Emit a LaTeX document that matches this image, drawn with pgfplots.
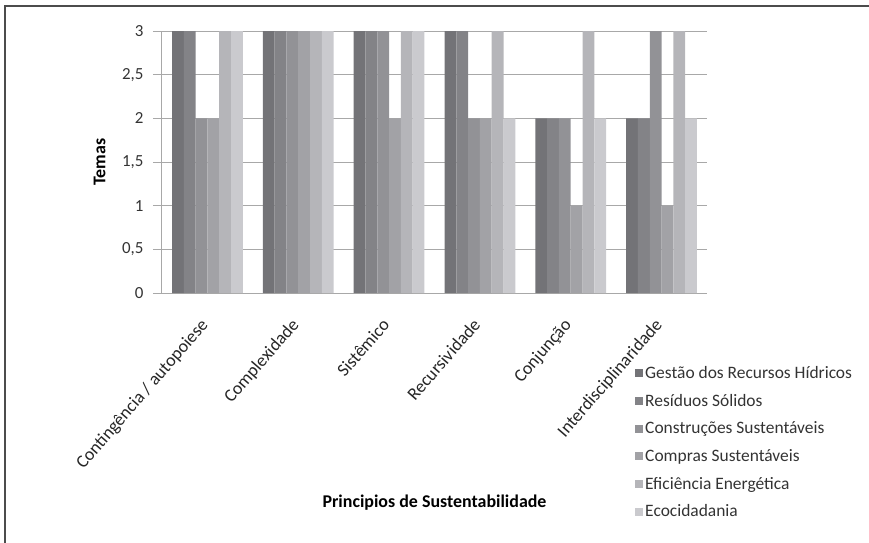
\documentclass[border=0pt]{standalone}
\usepackage{fontspec}
\setmainfont{Carlito}
\usepackage{pgfplots}
\pgfplotsset{compat=1.18}
\definecolor{c1}{HTML}{737377}
\definecolor{c2}{HTML}{838387}
\definecolor{c3}{HTML}{929296}
\definecolor{c4}{HTML}{A2A2A6}
\definecolor{c5}{HTML}{B5B5B9}
\definecolor{c6}{HTML}{CACACE}
\definecolor{gridc}{HTML}{A8A8A8}
\begin{document}
\begin{tikzpicture}
\useasboundingbox (-162bp,-250bp) rectangle (707bp,293bp);
\draw[black!70, line width=1.2bp] (-157bp,-250bp) -- (-157bp,287bp) -- (707bp,287bp);
\begin{axis}[
  at={(0,0)}, anchor=south west,
  scale only axis, width=545bp, height=262bp,
  ybar=0pt, bar width=11.8bp,
  xmin=-0.5, xmax=5.5, ymin=0, ymax=3,
  xtick={0,1,2,3,4,5},
  xticklabels={Contingência / autopoiese, Complexidade, Sistêmico, Recursividade, Conjunção, Interdisciplinaridade},
  xticklabel shift=15bp,
  x tick label style={xshift=-8bp, rotate=49, anchor=north east, font=\fontsize{18}{20}\selectfont, inner sep=0bp, text=black!85},
  major x tick style={draw=none},
  ytick={0,0.5,1,1.5,2,2.5,3},
  /pgf/number format/use comma,
  /pgf/number format/assume math mode=true,
  y tick label style={font=\fontsize{17}{19}\selectfont, text=black!80, xshift=-6bp},
  tick align=outside, major tick length=9bp,
  ytick style={gridc, line width=1bp},
  ymajorgrids, grid style={gridc, line width=1bp},
  axis x line*=bottom, axis y line*=left,
  axis line style={gridc, line width=1bp},
  ylabel={\textbf{Temas}},
  ylabel style={font=\fontsize{18}{20}\selectfont, at={(axis description cs:-0.097,0.5)}, anchor=south, rotate=0},
  xlabel={\textbf{Principios de Sustentabilidade}},
  xlabel style={font=\fontsize{18}{20}\selectfont, at={(axis description cs:0.5,-0.80)}, anchor=center},
  legend style={at={(axis description cs:0.868,-0.271)}, anchor=north west, draw=none, fill=none,
    font=\fontsize{17.5}{19}\selectfont, row sep=10.2bp, inner sep=0pt, text=black!80},
  legend cell align=left,
]
\addplot[fill=c1, draw=none, legend image code/.code={\fill[c1] (0bp,-4bp) rectangle (8bp,4bp);}] coordinates {(0,3) (1,3) (2,3) (3,3) (4,2) (5,2)};
\addplot[fill=c2, draw=none, legend image code/.code={\fill[c2] (0bp,-4bp) rectangle (8bp,4bp);}] coordinates {(0,3) (1,3) (2,3) (3,3) (4,2) (5,2)};
\addplot[fill=c3, draw=none, legend image code/.code={\fill[c3] (0bp,-4bp) rectangle (8bp,4bp);}] coordinates {(0,2) (1,3) (2,3) (3,2) (4,2) (5,3)};
\addplot[fill=c4, draw=none, legend image code/.code={\fill[c4] (0bp,-4bp) rectangle (8bp,4bp);}] coordinates {(0,2) (1,3) (2,2) (3,2) (4,1) (5,1)};
\addplot[fill=c5, draw=none, legend image code/.code={\fill[c5] (0bp,-4bp) rectangle (8bp,4bp);}] coordinates {(0,3) (1,3) (2,3) (3,3) (4,3) (5,3)};
\addplot[fill=c6, draw=none, legend image code/.code={\fill[c6] (0bp,-4bp) rectangle (8bp,4bp);}] coordinates {(0,3) (1,3) (2,3) (3,2) (4,2) (5,2)};
\legend{Gestão dos Recursos Hídricos, Resíduos Sólidos, Construções Sustentáveis, Compras Sustentáveis, Eficiência Energética, Ecocidadania}
\end{axis}
\end{tikzpicture}
\end{document}
